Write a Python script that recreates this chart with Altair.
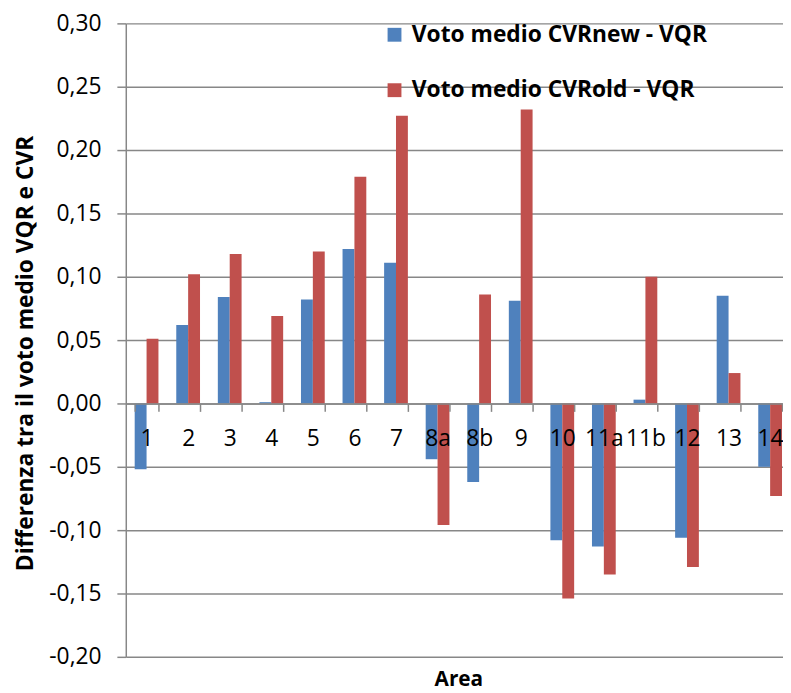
import altair as alt
import pandas as pd

# ---- data ----
areas = ["1", "2", "3", "4", "5", "6", "7", "8a", "8b", "9",
         "10", "11a", "11b", "12", "13", "14"]
cvr_new = [-0.052, 0.062, 0.084, 0.001, 0.082, 0.122, 0.111, -0.044,
           -0.062, 0.081, -0.108, -0.113, 0.003, -0.106, 0.085, -0.050]
cvr_old = [0.051, 0.102, 0.118, 0.069, 0.120, 0.179, 0.227, -0.096,
           0.086, 0.232, -0.154, -0.135, 0.100, -0.129, 0.024, -0.073]
series_names = ["Voto medio CVRnew - VQR", "Voto medio CVRold  - VQR"]
series_colors = ["#4F81BD", "#C0504D"]
y_ticks = [-0.20, -0.15, -0.10, -0.05, 0.00, 0.05, 0.10, 0.15, 0.20, 0.25, 0.30]

rows = []
for a, n, o in zip(areas, cvr_new, cvr_old):
    rows.append({"Area": a, "Serie": series_names[0], "Valore": n})
    rows.append({"Area": a, "Serie": series_names[1], "Valore": o})
df = pd.DataFrame(rows)

W = 664
H = 640
PAD_TOP = 12
PAD_LEFT = 119
PAD_BOTTOM = 34
STEP_RANGE = 672
zero_from_bottom = H * 0.2 / 0.5
zero_from_top = H - zero_from_bottom
gray = "#878787"
font = "Open Sans"

chart = alt.Chart(df).mark_bar(clip=True).encode(
    x=alt.X(
        "Area:N",
        sort=areas,
        scale=alt.Scale(range=[0, STEP_RANGE], paddingInner=18 / 42, paddingOuter=9 / 42),
        axis=alt.Axis(
            title="Area",
            offset=-zero_from_bottom,
            grid=False,
            domainColor=gray,
            domainWidth=1.5,
            tickColor=gray,
            tickWidth=1.5,
            tickSize=8,
            tickBand="extent",
            labelAngle=0,
            labelFont=font,
            labelFontSize=23,
            labelColor="black",
            labelBaseline="alphabetic",
            labelPadding=34,
            labelOverlap=False,
            labelFlush=False,
            titleFont=font,
            titleFontSize=21,
            titleFontWeight="bold",
            titleColor="black",
            titleX=STEP_RANGE / 2,
            titleY=(H + 29) - zero_from_top,
            titleBaseline="alphabetic",
            titleAlign="center",
            zindex=1,
        ),
    ),
    xOffset=alt.XOffset("Serie:N", sort=series_names),
    y=alt.Y(
        "Valore:Q",
        scale=alt.Scale(domain=[-0.2, 0.3], nice=False, zero=False),
        axis=alt.Axis(
            title="Differenza tra il voto medio VQR e CVR",
            values=y_ticks,
            labelExpr="(datum.value < -0.0001 ? '-' : '') + replace(format(abs(datum.value), '.2f'), '.', ',')",
            labelFont=font,
            labelFontSize=23,
            labelColor="black",
            labelPadding=16,
            tickSize=9,
            tickColor=gray,
            tickWidth=1.5,
            domainColor=gray,
            domainWidth=1.5,
            grid=True,
            gridColor=gray,
            gridWidth=1.5,
            titleFont=font,
            titleFontSize=23,
            titleFontWeight="bold",
            titleColor="black",
            titleAngle=270,
            titleX=-94,
            titleY=333,
            titleAlign="center",
            titleBaseline="alphabetic",
        ),
    ),
    color=alt.Color(
        "Serie:N",
        sort=series_names,
        scale=alt.Scale(domain=series_names, range=series_colors),
        legend=alt.Legend(
            title=None,
            orient="none",
            legendX=260,
            legendY=0,
            symbolType="square",
            symbolSize=196,
            symbolStrokeWidth=0,
            symbolOpacity=1,
            labelFont=font,
            labelFontSize=23,
            labelFontWeight="bold",
            labelColor="black",
            labelOffset=6,
            labelLimit=500,
            rowPadding=32,
        ),
    ),
).properties(
    width=W,
    height=H,
    autosize=alt.AutoSizeParams(type="none"),
    padding={"left": PAD_LEFT, "top": PAD_TOP, "right": 0, "bottom": PAD_BOTTOM},
).configure_view(strokeOpacity=0)

chart.save("out.html", embed_options={"renderer": "svg", "actions": False})
